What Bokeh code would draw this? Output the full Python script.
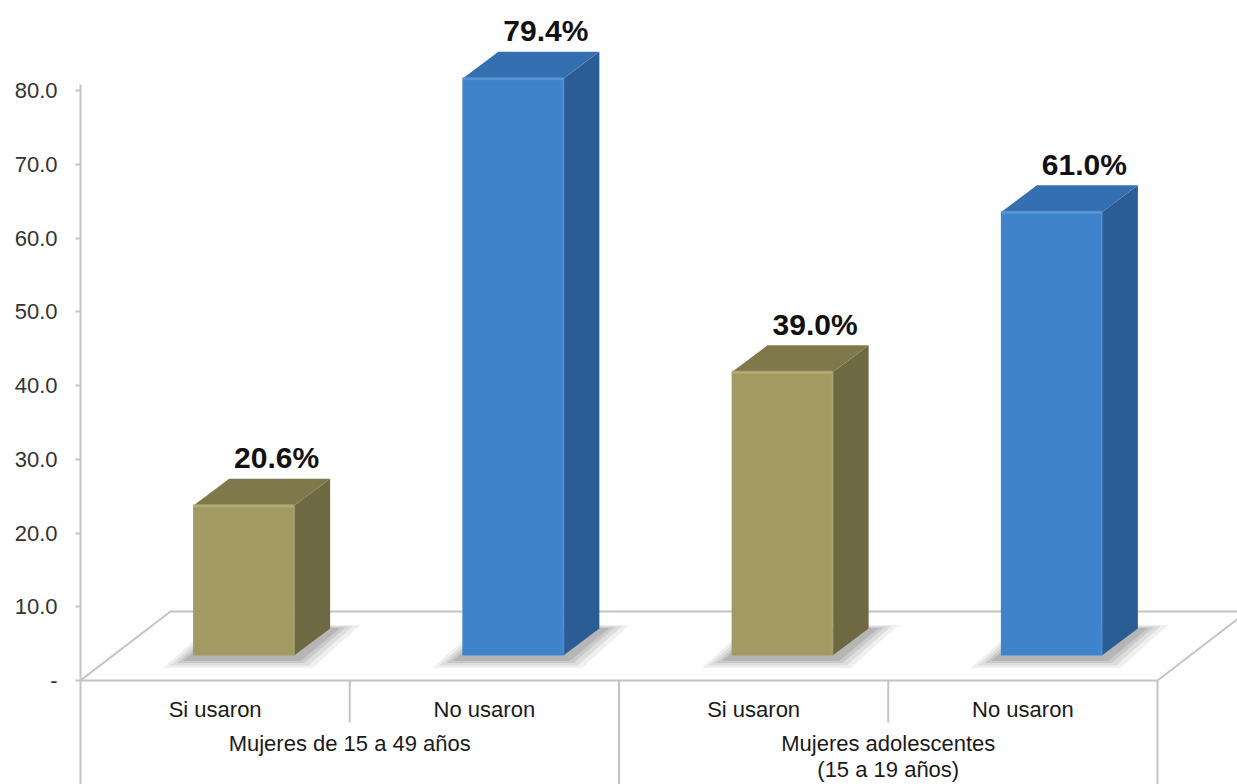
from bokeh.plotting import figure
from bokeh.models import Range1d, FixedTicker
from bokeh.embed import file_html
from bokeh.resources import INLINE
from bokeh.core.properties import value

# ---------------- data ----------------
group_labels = ["Mujeres de 15 a 49 años", "Mujeres adolescentes\n(15 a 19 años)"]
bar_labels = ["Si usaron", "No usaron", "Si usaron", "No usaron"]
percentages = [20.6, 79.4, 39.0, 61.0]
pct_text = ["20.6%", "79.4%", "39.0%", "61.0%"]
y_ticks = [0, 10, 20, 30, 40, 50, 60, 70, 80]
y_tick_labels = ["-", "10.0", "20.0", "30.0", "40.0", "50.0", "60.0", "70.0", "80.0"]

# ---------------- style ----------------
front_colors = ["#A29A63", "#3F84CB", "#A29A63", "#3F84CB"]
side_colors = ["#6E6942", "#2B5C93", "#6E6942", "#2B5C93"]
top_colors = ["#7F784A", "#3470B1", "#7F784A", "#3470B1"]
edge_colors = ["#B5AD78", "#5A99DA", "#B5AD78", "#5A99DA"]
GRID = "#C4C4C4"
FONT = "Liberation Sans"

W, H = 1237, 784
AXIS_PX = 80          # x pixel of the value axis
ZERO_PX = 680         # y pixel (from top) of value 0
PX_U = 269.25         # pixels per category slot
PX_V = 7.375          # pixels per value unit


def du(px):
    return px / PX_U


def dv(px):
    return px / PX_V


n = len(percentages)
x_range = Range1d(0, du(W - AXIS_PX))
y_range = Range1d(-dv(H - ZERO_PX), dv(ZERO_PX))

p = figure(width=W, height=H, x_range=x_range, y_range=y_range,
           output_backend="svg", toolbar_location=None,
           x_axis_location=None, min_border_left=AXIS_PX, min_border_right=0,
           min_border_top=0, min_border_bottom=0)
p.outline_line_color = None
p.xgrid.visible = False
p.ygrid.visible = False
p.background_fill_color = "white"
p.border_fill_color = "white"

# value axis
ax = p.yaxis[0]
ax.ticker = FixedTicker(ticks=y_ticks)
ax.major_label_overrides = {t: lab for t, lab in zip(y_ticks, y_tick_labels)}
ax.bounds = (y_range.start, dv(ZERO_PX - 84))
ax.axis_line_color = GRID
ax.axis_line_width = 2
ax.major_tick_line_color = GRID
ax.major_tick_line_width = 2
ax.major_tick_out = 5
ax.major_tick_in = 0
ax.minor_tick_out = 0
ax.minor_tick_in = 0
ax.major_label_standoff = 18
ax.major_label_text_font = FONT
ax.major_label_text_font_size = "22px"
ax.major_label_text_color = "#333333"

# ---------------- floor (3D base) ----------------
DU, DV = du(90), dv(69)
p.multi_line(xs=[[0, DU, n + DU], [n, n + DU], [0, n]],
             ys=[[0, DV, DV], [0, DV], [0, 0]],
             line_color=GRID, line_width=2)

# category table lines
sub_sep = [1, 3]
grp_sep = [2, 4]
p.segment(x0=sub_sep, y0=[0] * len(sub_sep), x1=sub_sep, y1=[-dv(42)] * len(sub_sep),
          line_color=GRID, line_width=2)
p.segment(x0=grp_sep, y0=[0] * len(grp_sep), x1=grp_sep, y1=[y_range.start] * len(grp_sep),
          line_color=GRID, line_width=2)

# ---------------- bars ----------------
OFF = du(28.5)
HALF = du(50.5)
BASE = dv(25)
K = 0.985
BU, BV = du(36), dv(27)

centers = [i + 0.5 + OFF for i in range(n)]
lefts = [c - HALF for c in centers]
rights = [c + HALF for c in centers]
tops = [BASE + v * K for v in percentages]


def floor_y(px_below_base):
    return BASE - dv(px_below_base)


# soft shadows on the floor
for g, alpha in [(24, 0.09), (17, 0.11), (10, 0.13), (4, 0.16)]:
    sx, sy = [], []
    for l, r in zip(lefts, rights):
        sx.append([l - du(6 + g), r + du(4 + g * 0.6), r + BU + du(6 + g), l + BU - du(6 + g * 0.5)])
        sy.append([floor_y(4 + g * 0.35), floor_y(4 + g * 0.35), floor_y(-27 - g * 0.15), floor_y(-27 - g * 0.15)])
    p.patches(xs=sx, ys=sy, fill_color="#505050", fill_alpha=alpha, line_color=None)

# front faces
p.quad(left=lefts, right=rights, bottom=[BASE] * n, top=tops,
       fill_color=front_colors, line_color=None)
# side faces
p.patches(xs=[[r, r + BU, r + BU, r] for r in rights],
          ys=[[BASE, BASE + BV, t + BV, t] for t in tops],
          fill_color=side_colors, line_color=None)
# top faces
p.patches(xs=[[l, r, r + BU, l + BU] for l, r in zip(lefts, rights)],
          ys=[[t, t, t + BV, t + BV] for t in tops],
          fill_color=top_colors, line_color=None)
# bevel highlights
p.segment(x0=lefts, y0=tops, x1=rights, y1=tops, line_color=edge_colors,
          line_width=3, line_alpha=0.8)
p.segment(x0=rights, y0=[BASE] * n, x1=rights, y1=tops, line_color=edge_colors,
          line_width=2, line_alpha=0.5)

# value labels
p.text(x=[c + du(33) for c in centers], y=[t + BV + dv(21) for t in tops], text=pct_text,
       text_align="center", text_baseline="alphabetic",
       text_font=value(FONT), text_font_style="bold", text_font_size="30px",
       text_color="#111111")

# category labels
p.text(x=[i + 0.5 for i in range(n)], y=[-dv(29)] * n, text=bar_labels,
       text_align="center", text_baseline="middle",
       text_font=value(FONT), text_font_size="22px", text_color="#1A1A1A")
p.text(x=[1, 3], y=[-dv(50)] * 2, text=group_labels,
       text_align="center", text_baseline="top", line_height=1.05,
       text_font=value(FONT), text_font_size="22px", text_color="#1A1A1A")

open("out.html", "w").write(file_html(p, INLINE))
